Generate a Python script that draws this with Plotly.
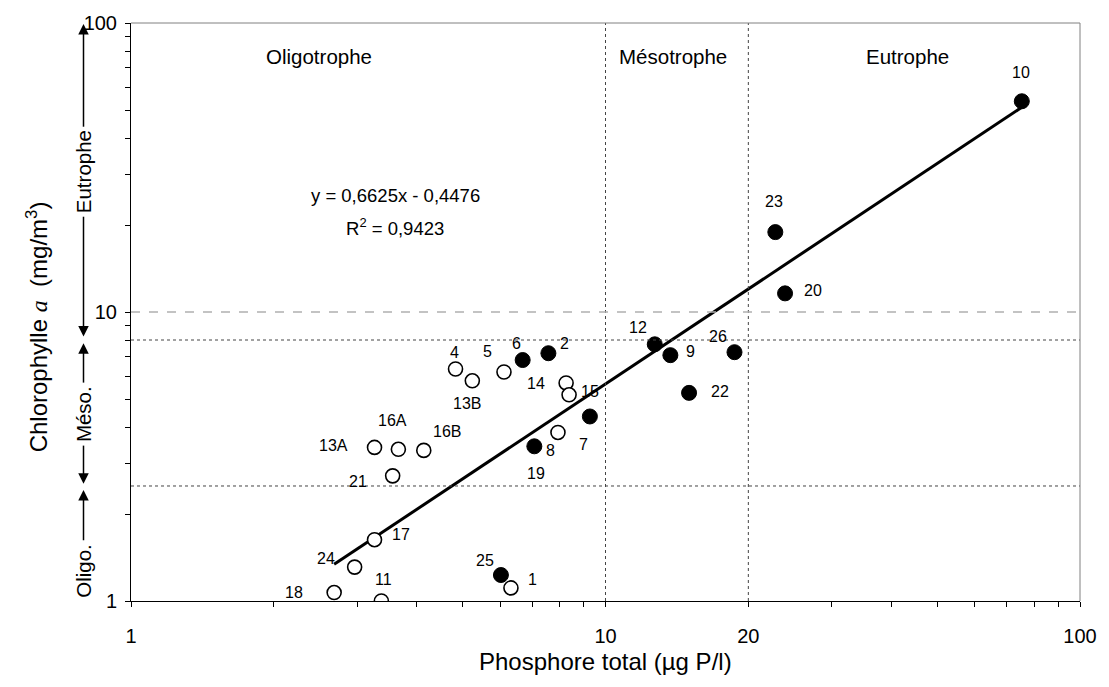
import numpy as np
import plotly.graph_objects as go

# ---------------- data ----------------
open_labels = ["1", "4", "5", "19", "11", "13A", "13B", "14", "15", "16A", "16B", "17", "18", "21", "24"]
open_tp = [6.32, 4.83, 6.11, 7.94, 3.37, 3.26, 5.24, 8.26, 8.38, 3.66, 4.14, 3.26, 2.68, 3.56, 2.96]
open_chla = [1.11, 6.35, 6.20, 3.83, 1.00, 3.40, 5.78, 5.68, 5.17, 3.35, 3.32, 1.63, 1.07, 2.71, 1.31]

filled_labels = ["2", "6", "8", "7", "9", "10", "12", "20", "22", "23", "25", "26"]
filled_tp = [7.58, 6.69, 7.08, 9.27, 13.7, 75.4, 12.7, 23.9, 15.0, 22.8, 6.02, 18.7]
filled_chla = [7.20, 6.82, 3.43, 4.35, 7.09, 53.6, 7.73, 11.6, 5.25, 18.9, 1.23, 7.26]

trend_tp = [2.68, 75.4]
trend_chla = [1.34, 51.1]

tp_thresholds = [10, 20]          # vertical dotted lines
chla_thresholds = [2.5, 8]        # horizontal dotted lines
chla_dashed = 10                  # horizontal dashed line

x_tickvals = [1, 10, 20, 100]
y_tickvals = [1, 10, 100]
x_minor = [2, 3, 4, 5, 6, 7, 8, 9, 30, 40, 50, 60, 70, 80, 90]
y_minor = [2, 3, 4, 5, 6, 7, 8, 9, 20, 30, 40, 50, 60, 70, 80, 90]

# label offsets in pixels (dx, dy) — style only
label_offsets = {
    "1": (22, -8), "4": (-1, -17), "5": (-16, -21), "19": (-22, 41), "11": (2, -22),
    "13A": (-41, -2), "13B": (-5, 23), "14": (-30, 1), "15": (21, -3), "16A": (-6, -29),
    "16B": (23, -19), "17": (26, -5), "18": (-40, 0), "21": (-35, 6), "24": (-29, -9),
    "2": (16, -10), "6": (-6, -17), "8": (16, 4), "7": (-6, 28), "9": (20, -4),
    "10": (-1, -29), "12": (-17, -17), "20": (28, -3), "22": (31, -1), "23": (-1, -31),
    "25": (-16, -15), "26": (-16, -16),
}

FONT = "Liberation Sans, Arial, sans-serif"

fig = go.Figure()

fig.add_trace(go.Scatter(
    x=trend_tp, y=trend_chla, mode="lines",
    line=dict(color="black", width=3), showlegend=False, hoverinfo="skip"))

fig.add_trace(go.Scatter(
    x=open_tp, y=open_chla, mode="markers",
    marker=dict(symbol="circle", size=14, color="white",
                line=dict(color="black", width=1.6)),
    showlegend=False))

fig.add_trace(go.Scatter(
    x=filled_tp, y=filled_chla, mode="markers",
    marker=dict(symbol="circle", size=15, color="black",
                line=dict(color="black", width=1)),
    showlegend=False))

annotations = []
for labs, xs, ys in [(open_labels, open_tp, open_chla), (filled_labels, filled_tp, filled_chla)]:
    for lab, xv, yv in zip(labs, xs, ys):
        dx, dy = label_offsets[lab]
        annotations.append(dict(
            x=np.log10(xv), y=np.log10(yv), xref="x", yref="y", text=lab,
            showarrow=False, xshift=dx, yshift=-dy, xanchor="center", yanchor="middle",
            font=dict(family=FONT, size=16, color="black")))

# pixel helpers for paper placement
PL, PW, PT, PH = 131, 959, 18, 583
def px2x(px):
    return (px - PL) / PW
def px2y(px):
    return (PT + PH - px) / PH

# region labels
for txt, cx in [("Oligotrophe", 321), ("Mésotrophe", 679), ("Eutrophe", 916)]:
    annotations.append(dict(x=px2x(cx), y=px2y(52), xref="paper", yref="paper", text=txt,
                            xanchor="center", yanchor="middle", showarrow=False,
                            font=dict(family=FONT, size=20.5, color="black")))

# equation
annotations.append(dict(x=px2x(398), y=px2y(192), xref="paper", yref="paper",
                        text="y = 0,6625x - 0,4476", showarrow=False,
                        xanchor="center", yanchor="middle",
                        font=dict(family=FONT, size=18.5, color="black")))
annotations.append(dict(x=px2x(398), y=px2y(224), xref="paper", yref="paper",
                        text="R<sup>2</sup> = 0,9423", showarrow=False,
                        xanchor="center", yanchor="middle",
                        font=dict(family=FONT, size=18.5, color="black")))

# left-side trophic arrows (pixel geometry)
ax_x = px2x(83)
for top_px, bot_px in [(19, 333), (341, 483), (489, 601)]:
    annotations.append(dict(x=ax_x, y=px2y(top_px), xref="paper", yref="paper",
                            ax=0, ay=bot_px - top_px, axref="pixel", ayref="pixel",
                            text="", showarrow=True, arrowhead=2, arrowsize=1.4,
                            arrowwidth=1.5, arrowcolor="black", arrowside="end+start"))
for txt, cpx in [("Eutrophe", 168), ("Méso.", 413), ("Oligo.", 571)]:
    annotations.append(dict(x=ax_x, y=px2y(cpx), xref="paper", yref="paper", text=txt,
                            textangle=-90, showarrow=False, bgcolor="white",
                            xanchor="center", yanchor="middle", borderpad=3,
                            font=dict(family=FONT, size=20.5, color="black")))

# axis titles
annotations.append(dict(x=px2x(36), y=px2y(324), xref="paper", yref="paper",
                        text="Chlorophylle <span style='font-family:Liberation Serif;font-style:italic'>a</span>  (mg/m<sup>3</sup>)",
                        textangle=-90, showarrow=False, xanchor="center", yanchor="middle",
                        font=dict(family=FONT, size=24, color="black")))
annotations.append(dict(x=px2x(610), y=px2y(662), xref="paper", yref="paper",
                        text="Phosphore total (µg P/l)", showarrow=False,
                        xanchor="center", yanchor="middle",
                        font=dict(family=FONT, size=24, color="black")))

shapes = []
for v in tp_thresholds:
    xp = np.log10(v) / 2
    shapes.append(dict(type="line", xref="paper", yref="paper", x0=xp, x1=xp, y0=0, y1=1,
                       line=dict(color="#444", width=1, dash="dot")))
for v in chla_thresholds:
    yp = np.log10(v) / 2
    shapes.append(dict(type="line", xref="paper", yref="paper", x0=0, x1=1, y0=yp, y1=yp,
                       line=dict(color="#444", width=1, dash="dot")))
yp = np.log10(chla_dashed) / 2
shapes.append(dict(type="line", xref="paper", yref="paper", x0=0, x1=1, y0=yp, y1=yp,
                   line=dict(color="#b0b0b0", width=1.5, dash="dash")))
# top/right frame
shapes.append(dict(type="line", xref="paper", yref="paper", x0=0, x1=1, y0=1, y1=1,
                   line=dict(color="#808080", width=1)))
shapes.append(dict(type="line", xref="paper", yref="paper", x0=1, x1=1, y0=0, y1=1,
                   line=dict(color="#808080", width=1)))

fig.update_layout(
    width=1109, height=687,
    margin=dict(l=PL, r=1109 - PL - PW, t=PT, b=687 - PT - PH),
    paper_bgcolor="white", plot_bgcolor="white",
    annotations=annotations, shapes=shapes,
    xaxis=dict(type="log", range=[0, 2], tickvals=x_tickvals,
               ticktext=[str(v) for v in x_tickvals],
               ticks="outside", ticklen=5, tickcolor="black",
               showgrid=False, zeroline=False, showline=True, linecolor="black", linewidth=1,
               tickfont=dict(family=FONT, size=20, color="black"), ticklabelstandoff=12,
               minor=dict(tickvals=x_minor, ticks="outside", ticklen=5, tickcolor="black",
                          showgrid=False)),
    yaxis=dict(type="log", range=[0, 2], tickvals=y_tickvals,
               ticktext=[str(v) for v in y_tickvals],
               ticks="outside", ticklen=5, tickcolor="black",
               showgrid=False, zeroline=False, showline=True, linecolor="black", linewidth=1,
               tickfont=dict(family=FONT, size=20, color="black"), ticklabelstandoff=4,
               minor=dict(tickvals=y_minor, ticks="outside", ticklen=5, tickcolor="black",
                          showgrid=False)),
)

fig.write_html("out.html", config={"displayModeBar": False},
               post_script="document.body.style.margin='0';document.body.style.overflow='hidden';document.documentElement.style.overflow='hidden';")
